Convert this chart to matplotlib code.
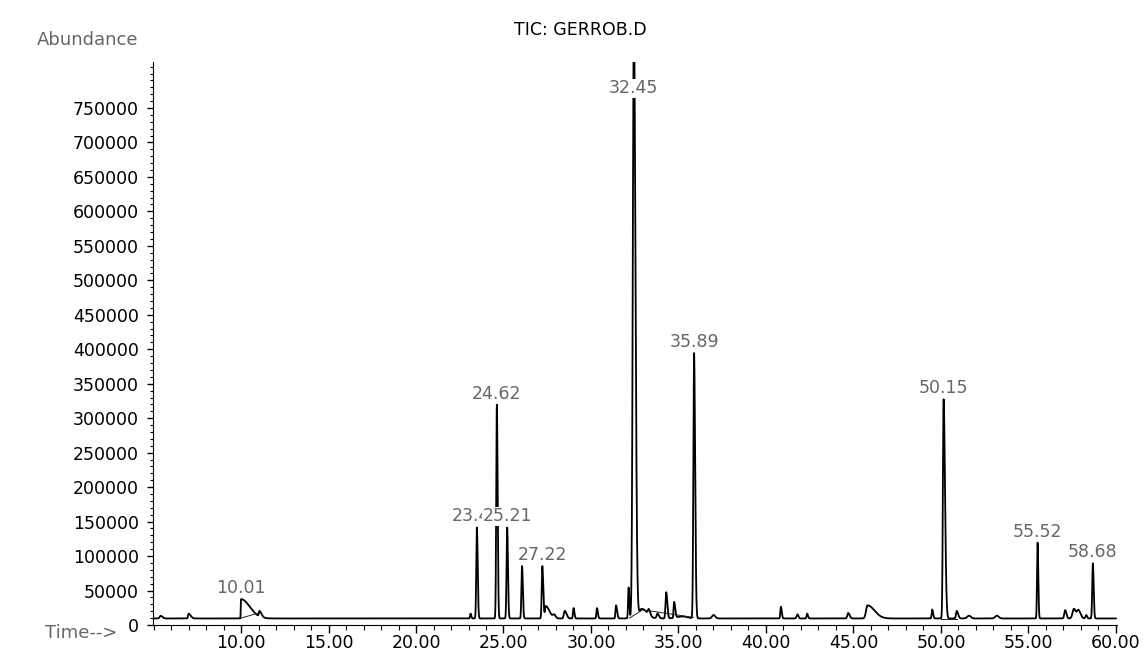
import numpy as np
import matplotlib
matplotlib.use("Agg")
import matplotlib.pyplot as plt
from matplotlib.ticker import MultipleLocator, FormatStrFormatter

plt.rcParams['font.family'] = ['DejaVu Sans']

# flat detector baseline (abundance)
baseline = 9500

# peaks: retention time (min), height above baseline,
# left / right half-widths (min)
peak_time = [5.4, 7.0, 10.0, 11.05, 23.12, 23.48, 24.62, 25.21, 26.06, 27.22,
             27.42, 27.9, 28.5, 29.0, 30.34, 31.43, 32.15, 32.45, 32.9, 33.3,
             33.8, 34.3, 34.75, 35.2, 35.89, 37.0, 40.85, 41.8, 42.35, 44.7,
             45.8, 49.5, 50.15, 50.9, 51.6, 53.2, 55.52, 57.1, 57.6, 57.85,
             58.3, 58.68]
peak_height = [4000, 7000, 28000, 8000, 7000, 132000, 310000, 132000, 76000, 76000,
               18000, 5000, 11000, 15000, 15000, 19000, 45000, 870000, 14000, 8000,
               7000, 38000, 23000, 3000, 385000, 5000, 17000, 6000, 7000, 8000,
               19000, 13000, 318000, 11000, 4000, 4000, 110000, 12000, 14000, 12000,
               5000, 80000]
peak_wl = [0.05, 0.03, 0.015, 0.03, 0.03, 0.035, 0.035, 0.035, 0.035, 0.035,
           0.05, 0.08, 0.05, 0.03, 0.03, 0.03, 0.03, 0.06, 0.15, 0.05,
           0.05, 0.04, 0.03, 0.3, 0.04, 0.08, 0.03, 0.05, 0.03, 0.05,
           0.08, 0.03, 0.04, 0.04, 0.1, 0.1, 0.03, 0.05, 0.08, 0.08,
           0.04, 0.035]
peak_wr = [0.1, 0.12, 0.5, 0.12, 0.04, 0.045, 0.045, 0.045, 0.045, 0.05,
           0.2, 0.08, 0.1, 0.05, 0.05, 0.06, 0.04, 0.09, 0.3, 0.08,
           0.08, 0.06, 0.06, 0.3, 0.06, 0.1, 0.05, 0.05, 0.05, 0.08,
           0.4, 0.05, 0.08, 0.08, 0.1, 0.1, 0.04, 0.07, 0.1, 0.12,
           0.05, 0.045]

# labelled peaks
label_times = [10.01, 23.48, 24.62, 25.21, 27.22, 32.45, 35.89, 50.15, 55.52, 58.68]
label_texts = ["10.01", "23.48", "24.62", "25.21", "27.22", "32.45", "35.89",
               "50.15", "55.52", "58.68"]

# integration baselines drawn under some peaks (time, abundance)
seg_t0 = [10.0, 32.2, 32.95, 50.0]
seg_y0 = [10000, 10000, 22000, 9000]
seg_t1 = [10.95, 32.95, 35.85, 50.9]
seg_y1 = [17000, 22000, 11000, 9000]

# build the trace from the peak table
t = np.arange(5.0, 60.0, 0.004)
signal = np.full_like(t, baseline, dtype=float)
for pt, ph, wl, wr in zip(peak_time, peak_height, peak_wl, peak_wr):
    w = np.where(t < pt, wl, wr)
    signal += ph * np.exp(-0.5 * ((t - pt) / w) ** 2)

fig = plt.figure(figsize=(11.44, 6.5), dpi=100)
ax = fig.add_axes([153 / 1144, 25 / 650, (1117 - 153) / 1144, (625 - 62) / 650])

ax.plot(t, signal, color='black', lw=1.3, zorder=2)
for a, b, c, d in zip(seg_t0, seg_y0, seg_t1, seg_y1):
    ax.plot([a, c], [b, d], color='#222222', lw=0.7, zorder=2)

ymax = 816700
ax.set_xlim(4.97, 60.06)
ax.set_ylim(0, ymax)

# peak labels
for lt, txt in zip(label_times, label_texts):
    top = signal[np.abs(t - lt) < 0.08].max()
    if top < ymax:
        ax.annotate(txt, (lt, top), xytext=(0, 1.5), textcoords='offset points',
                    ha='center', va='bottom', fontsize=12.5, color='#666666',
                    bbox=dict(facecolor='white', edgecolor='none', pad=0.5),
                    zorder=3)
    else:
        ax.annotate(txt, (lt, ymax), xytext=(0, -19), textcoords='offset points',
                    ha='center', va='center', fontsize=12.5, color='#666666',
                    bbox=dict(facecolor='white', edgecolor='none', pad=0.5),
                    zorder=3)

ax.spines['top'].set_visible(False)
ax.spines['right'].set_visible(False)

ax.xaxis.set_minor_locator(MultipleLocator(1))
ax.xaxis.set_major_formatter(FormatStrFormatter('%.2f'))
ax.set_xticks(np.arange(10, 61, 5))
ax.yaxis.set_minor_locator(MultipleLocator(10000))
ax.set_yticks(np.arange(0, 750001, 50000))

ax.tick_params(axis='x', which='major', length=6, width=1, pad=0.5, labelsize=12.5)
ax.tick_params(axis='x', which='minor', length=3.5, width=0.8)
ax.tick_params(axis='y', which='major', length=4, width=1, pad=6, labelsize=12.5)
ax.tick_params(axis='y', which='minor', length=2.5, width=0.8)

fig.text(580 / 1144, 1 - 30 / 650, "TIC: GERROB.D", ha='center', va='center',
         fontsize=12.5, color='black')
fig.text(37 / 1144, 1 - 40 / 650, "Abundance", ha='left', va='center',
         fontsize=13, color='#666666')
fig.text(45 / 1144, 1 - 633 / 650, "Time-->", ha='left', va='center',
         fontsize=13, color='#666666')

fig.savefig("out.png", dpi=100)
